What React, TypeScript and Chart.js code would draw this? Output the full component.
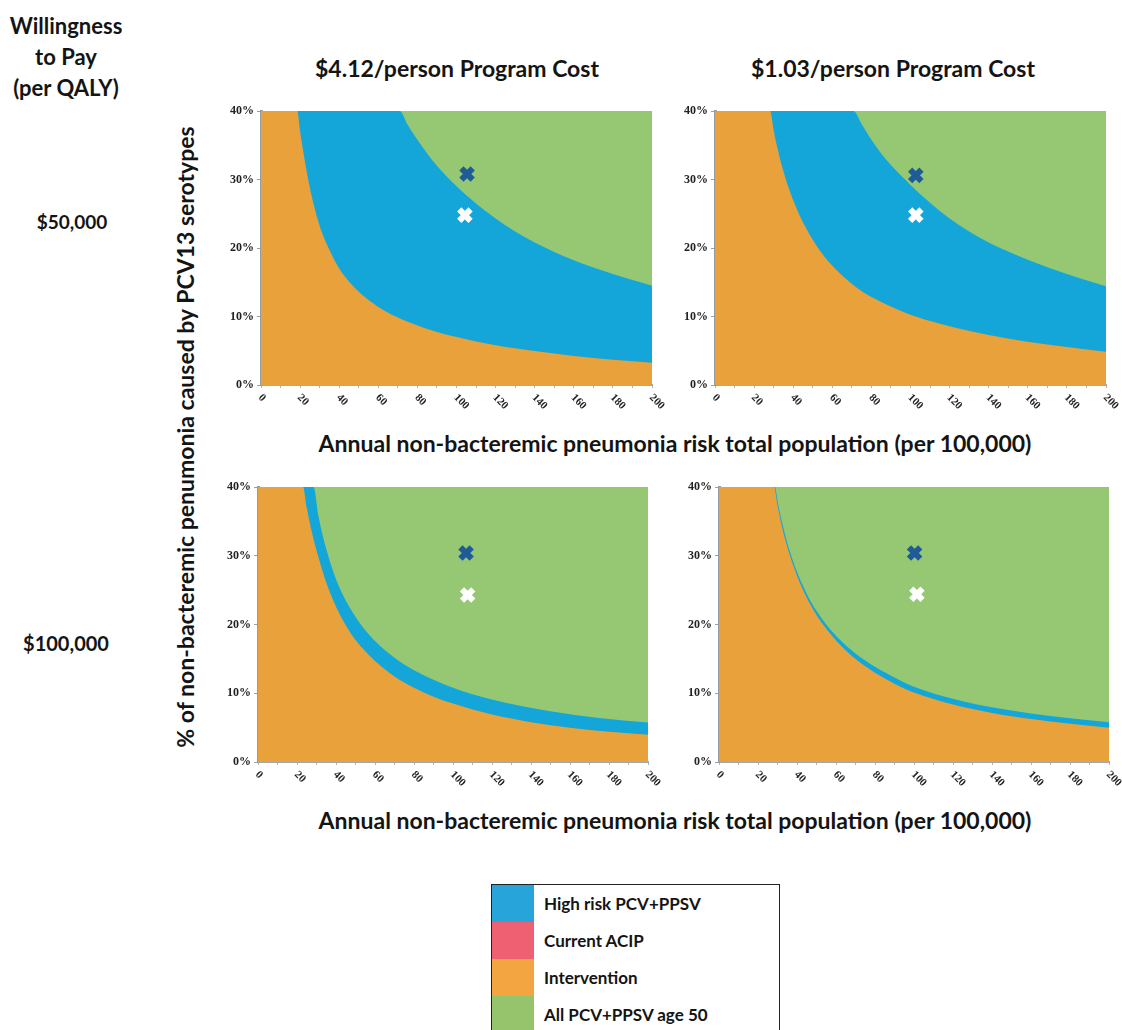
import React, { useEffect, useRef } from "react";
import { Chart, registerables } from "chart.js";
Chart.register(...registerables);

type Pt = [number, number];

// x = annual non-bacteremic pneumonia risk (per 100,000), y = % caused by PCV13 serotypes
// Upper edge of the "Intervention" region and of the "High risk PCV+PPSV" region, per panel.
const interventionEdge412At50k: Pt[] = [
  [0, 40], [18.6, 40], [20, 37], [22, 33.4], [25, 28.8], [28, 25.2], [31, 22.4], [35, 19.7],
  [40, 17], [45, 15.1], [50, 13.6], [60, 11.4], [70, 9.85], [80, 8.7], [90, 7.75], [100, 7.0],
  [120, 5.8], [140, 4.95], [160, 4.25], [180, 3.7], [200, 3.25],
];
const highRiskEdge412At50k: Pt[] = [
  [0, 40], [71, 40], [75, 38], [80, 35.8], [85, 33.8], [90, 32], [100, 29], [110, 26.5],
  [120, 24.3], [130, 22.4], [140, 20.8], [160, 18.2], [180, 16.2], [200, 14.5],
];
const interventionEdge103At50k: Pt[] = [
  [0, 40], [28.2, 40], [30, 37.2], [32, 34.5], [35, 31.2], [38, 28.5], [42, 25.6], [46, 23.2],
  [52, 20.3], [60, 17.4], [72, 14.3], [80, 12.85], [97, 10.6], [110, 9.35], [124, 8.3],
  [140, 7.3], [158, 6.4], [180, 5.55], [200, 4.85],
];
const highRiskEdge103At50k: Pt[] = [
  [0, 40], [70.9, 40], [75, 38.1], [80, 35.8], [85, 33.8], [90, 32.1], [100, 29.2], [110, 26.6],
  [120, 24.3], [130, 22.4], [140, 20.8], [160, 18.3], [180, 16.2], [200, 14.4],
];
const interventionEdge412At100k: Pt[] = [
  [0, 40], [23.1, 40], [25, 37], [28, 33], [31, 29.8], [35, 26.1], [40, 22.6], [45, 19.9],
  [50, 17.75], [60, 14.7], [70, 12.45], [80, 10.8], [90, 9.5], [100, 8.5], [120, 6.9],
  [140, 5.8], [160, 4.97], [180, 4.39], [200, 3.95],
];
const highRiskEdge412At100k: Pt[] = [
  [0, 40], [28.5, 40], [31, 35.8], [35, 31], [40, 26.6], [45, 23.5], [52, 20.3], [60, 17.6],
  [70, 15.15], [80, 13.35], [100, 10.8], [120, 9.1], [150, 7.4], [175, 6.4], [200, 5.75],
];
const interventionEdge103At100k: Pt[] = [
  [0, 40], [28.2, 40], [30, 37.3], [32, 34.6], [35, 31.3], [40, 27.1], [45, 23.9], [50, 21.4],
  [55, 19.4], [62, 17.1], [70, 15.0], [80, 13.0], [90, 11.4], [100, 10.1], [120, 8.35],
  [140, 7.12], [160, 6.25], [180, 5.55], [200, 5.0],
];
const highRiskEdge103At100k: Pt[] = [
  [0, 40], [28.6, 40], [30.4, 37.4], [32.4, 34.8], [35.4, 31.5], [40.5, 27.3], [45.5, 24.2],
  [50, 22], [55, 20], [62, 17.8], [70, 15.8], [80, 13.85], [90, 12.3], [100, 10.95], [120, 9.2],
  [140, 7.95], [160, 7.05], [180, 6.35], [200, 5.8],
];
const topEdge: Pt[] = [[0, 40], [200, 40]];

// Base-case markers (dark and white crosses)
const darkMark412At50k: Pt = [105.4, 30.8];
const whiteMark412At50k: Pt = [104.3, 24.8];
const darkMark103At50k: Pt = [102.7, 30.6];
const whiteMark103At50k: Pt = [102.7, 24.8];
const darkMark412At100k: Pt = [106.7, 30.4];
const whiteMark412At100k: Pt = [107.5, 24.3];
const darkMark103At100k: Pt = [100.3, 30.4];
const whiteMark103At100k: Pt = [101.5, 24.4];

const columnTitles = ["$4.12/person Program Cost", "$1.03/person Program Cost"];
const rowTitles = ["$50,000", "$100,000"];
const legendLabels = ["High risk PCV+PPSV", "Current ACIP", "Intervention", "All PCV+PPSV age 50"];
const legendColors = ["#27A4DA", "#EE6072", "#F2A540", "#95C46C"];

const ORANGE = "#E9A23B";
const BLUE = "#15A6D9";
const GREEN = "#96C873";
const DARK = "#1F5B96";

const FONT = "Lato, 'Open Sans', sans-serif";

type Area = { left: number; top: number; right: number; bottom: number };

function Panel(props: { area: Area; intervention: Pt[]; highRisk: Pt[]; dark: Pt; white: Pt }) {
  const ref = useRef<HTMLCanvasElement>(null);
  const { area } = props;
  const yW = 48, xH = 40, padT = 8, padR = 16;
  const w = area.right - area.left + yW + padR;
  const h = area.bottom - area.top + padT + xH;
  useEffect(() => {
    const toXY = (a: Pt[]) => a.map(([x, y]) => ({ x, y }));
    const rotLabels = {
      id: "rotLabels",
      afterDraw(chart: any) {
        const xs = chart.scales.x;
        const ctx = chart.ctx;
        ctx.save();
        ctx.font = "bold 11px 'Liberation Serif'";
        ctx.fillStyle = "#222";
        ctx.textAlign = "left";
        ctx.textBaseline = "middle";
        xs.ticks.forEach((t: any) => {
          if (t.value % 20 !== 0) return;
          const px = xs.getPixelForValue(t.value);
          ctx.save();
          ctx.translate(px - 1, xs.top + 11);
          ctx.rotate(Math.PI / 4);
          ctx.fillText(String(t.value), 0, 0);
          ctx.restore();
        });
        ctx.restore();
      },
    };
    const markDs = (p: Pt, color: string) => ({
      data: [{ x: p[0], y: p[1] }],
      showLine: false,
      pointStyle: "crossRot",
      pointRadius: 8,
      pointBorderWidth: 6,
      borderColor: color,
      backgroundColor: color,
    });
    const areaDs = (a: Pt[], color: string) => ({
      data: toXY(a),
      fill: "origin",
      backgroundColor: color,
      borderWidth: 0,
      borderColor: color,
      pointRadius: 0,
      cubicInterpolationMode: "monotone",
    });
    const chart = new Chart(ref.current as HTMLCanvasElement, {
      type: "line",
      data: {
        datasets: [
          markDs(props.dark, DARK),
          markDs(props.white, "#FFFFFF"),
          areaDs(props.intervention, ORANGE),
          areaDs(props.highRisk, BLUE),
          areaDs(topEdge, GREEN),
        ] as any,
      },
      options: {
        animation: false,
        responsive: false,
        events: [],
        layout: { padding: { top: padT, right: padR, left: 0, bottom: 0 } },
        plugins: { legend: { display: false }, tooltip: { enabled: false } },
        scales: {
          x: {
            type: "linear",
            min: 0,
            max: 200,
            ticks: { stepSize: 10, display: false },
            grid: { drawOnChartArea: false, tickLength: 3, color: "#b0b5ba" },
            border: { color: "#a3a9af", width: 2 },
            afterFit: (s: any) => { s.height = xH; },
          },
          y: {
            min: 0,
            max: 40,
            ticks: {
              stepSize: 10,
              callback: (v: any) => v + "%",
              font: { family: "'Liberation Serif'", weight: "bold", size: 12 },
              color: "#222",
              padding: 3,
            },
            grid: { drawOnChartArea: false, tickLength: 4, color: "#9aa0a6" },
            border: { color: "#959ba2", width: 3 },
            afterFit: (s: any) => { s.width = yW; },
          },
        },
      } as any,
      plugins: [rotLabels],
    });
    return () => chart.destroy();
  }, []);
  return (
    <canvas
      ref={ref}
      width={w}
      height={h}
      style={{ position: "absolute", left: area.left - yW, top: area.top - padT, width: w, height: h }}
    />
  );
}

function Label(props: { x: number; y: number; size: number; text: string; rotate?: number }) {
  return (
    <div
      style={{
        position: "absolute",
        left: props.x,
        top: props.y,
        transform: `translate(-50%, -50%) rotate(${props.rotate || 0}deg)`,
        fontFamily: FONT,
        fontWeight: 700,
        fontSize: props.size,
        color: "#141414",
        whiteSpace: "nowrap",
        lineHeight: 1,
      }}
    >
      {props.text}
    </div>
  );
}

export default function App() {
  return (
    <div
      style={{
        position: "absolute",
        left: 0,
        top: 0,
        width: 1122,
        height: 1030,
        overflow: "hidden",
        background: "#fff",
      }}
    >
      <div
        style={{
          position: "absolute",
          left: 66,
          top: 10,
          transform: "translateX(-50%)",
          textAlign: "center",
          fontFamily: FONT,
          fontWeight: 700,
          fontSize: 22,
          lineHeight: "31px",
          color: "#141414",
          whiteSpace: "nowrap",
        }}
      >
        Willingness
        <br />
        to Pay
        <br />
        (per QALY)
      </div>
      <Label x={457} y={68} size={23} text={columnTitles[0]} />
      <Label x={893} y={68} size={23} text={columnTitles[1]} />
      <Label x={72} y={221} size={19} text={rowTitles[0]} />
      <Label x={66} y={643} size={20} text={rowTitles[1]} />
      <Label x={185} y={437} size={23} rotate={-90} text="% of non-bacteremic penumonia caused by PCV13 serotypes" />
      <Label x={675} y={443} size={23} text="Annual non-bacteremic pneumonia risk total population (per 100,000)" />
      <Label x={675} y={820} size={23} text="Annual non-bacteremic pneumonia risk total population (per 100,000)" />

      <Panel
        area={{ left: 261, top: 105, right: 652, bottom: 385 }}
        intervention={interventionEdge412At50k}
        highRisk={highRiskEdge412At50k}
        dark={darkMark412At50k}
        white={whiteMark412At50k}
      />
      <Panel
        area={{ left: 715, top: 105, right: 1106, bottom: 385 }}
        intervention={interventionEdge103At50k}
        highRisk={highRiskEdge103At50k}
        dark={darkMark103At50k}
        white={whiteMark103At50k}
      />
      <Panel
        area={{ left: 258, top: 481, right: 648, bottom: 762 }}
        intervention={interventionEdge412At100k}
        highRisk={highRiskEdge412At100k}
        dark={darkMark412At100k}
        white={whiteMark412At100k}
      />
      <Panel
        area={{ left: 719, top: 481, right: 1109, bottom: 762 }}
        intervention={interventionEdge103At100k}
        highRisk={highRiskEdge103At100k}
        dark={darkMark103At100k}
        white={whiteMark103At100k}
      />

      <div
        style={{
          position: "absolute",
          left: 491,
          top: 884,
          width: 289,
          height: 170,
          border: "1.5px solid #222",
          boxSizing: "border-box",
          background: "#fff",
        }}
      >
        {legendLabels.map((lab, i) => (
          <div key={lab} style={{ display: "flex", alignItems: "center", height: 37 }}>
            <div style={{ width: 42, height: 37, background: legendColors[i] }} />
            <div
              style={{
                marginLeft: 10,
                fontFamily: FONT,
                fontWeight: 700,
                fontSize: 17,
                color: "#141414",
                whiteSpace: "nowrap",
              }}
            >
              {lab}
            </div>
          </div>
        ))}
      </div>
    </div>
  );
}
